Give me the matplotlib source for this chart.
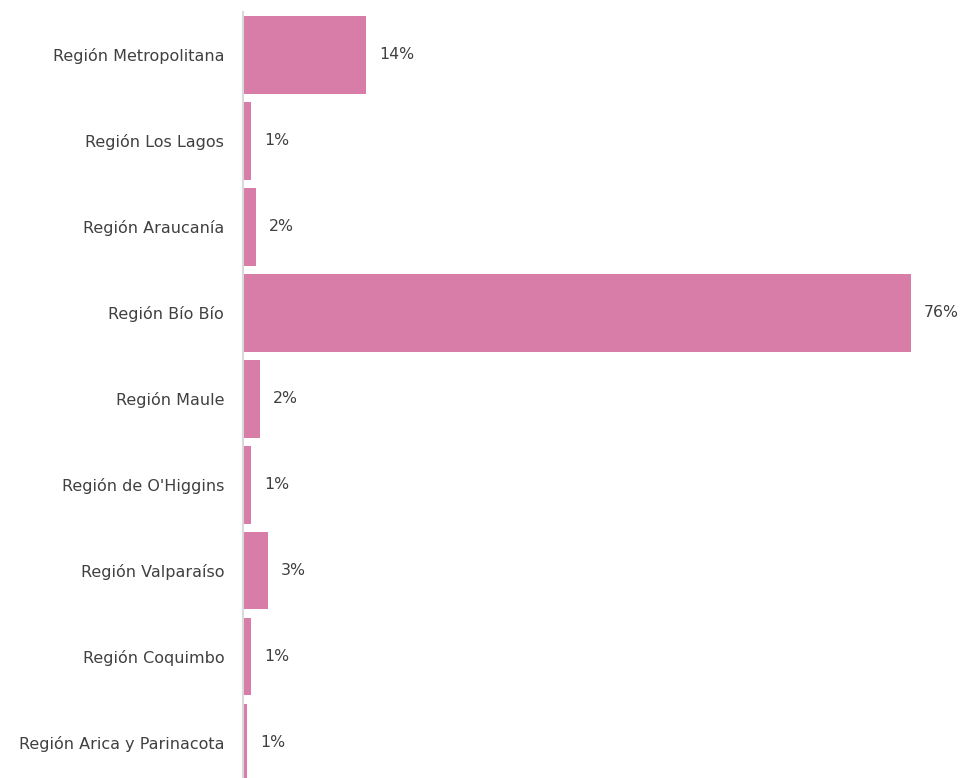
import matplotlib
matplotlib.use("Agg")
import matplotlib.pyplot as plt

categories = ["Región Metropolitana", "Región Los Lagos", "Región Araucanía", "Región Bío Bío",
              "Región Maule", "Región de O'Higgins", "Región Valparaíso", "Región Coquimbo",
              "Región Arica y Parinacota"]
values = [14.0, 0.9, 1.5, 76.0, 1.9, 0.9, 2.8, 0.9, 0.5]
labels = ["14%", "1%", "2%", "76%", "2%", "1%", "3%", "1%", "1%"]

W, H = 965, 778
fig = plt.figure(figsize=(W/100, H/100), dpi=100)
ax = fig.add_axes([243/W, 0, 1 - 243/W, (778-12)/H])

pos = list(range(len(categories)))
ax.barh(pos, values, height=0.9, color="#D87DA8", zorder=2)
ax.set_ylim(8.41, -0.5)
ax.set_xlim(0, (W-243)/8.79)

for p, v, l in zip(pos, values, labels):
    ax.text(v + 1.5, p, l, va="center", ha="left", fontsize=11.3, color="#404040", family="DejaVu Sans")

ax.set_yticks(pos)
ax.set_yticklabels(categories, fontsize=11.5, color="#404040")
ax.tick_params(axis="y", length=0, pad=13.5)
ax.set_xticks([])
for s in ["top", "right", "bottom"]:
    ax.spines[s].set_visible(False)
ax.spines["left"].set_color("#D9D9D9")
ax.spines["left"].set_linewidth(1.5)
ax.spines["left"].set_zorder(3)

fig.savefig("out.png", dpi=100)
